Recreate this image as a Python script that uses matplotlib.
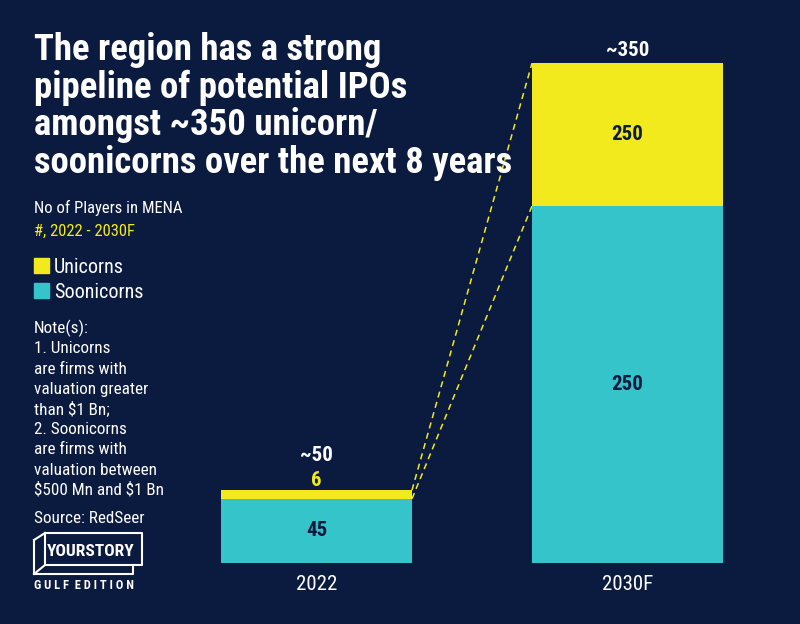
import matplotlib
matplotlib.use("Agg")
import matplotlib.pyplot as plt
from matplotlib.patches import Rectangle

# ---- data ----
years = ["2022", "2030F"]
soonicorns = [45, 250]
unicorns = [6, 100]          # bar heights as drawn in the reference
soonicorn_labels = ["45", "250"]
unicorn_labels = ["6", "250"]
total_labels = ["~50", "~350"]

BG = "#0b1a3f"
YEL = "#f2ea1c"
TEAL = "#35c4c9"
WHITE = "#ffffff"

plt.rcParams["font.family"] = ["Roboto Condensed", "DejaVu Sans"]

W, H = 800, 624
fig = plt.figure(figsize=(W / 100, H / 100), dpi=100, facecolor=BG)

def P(x, y):
    return x / W, 1 - y / H

# axes: pixel x 160..785, y 20..563
ax = fig.add_axes([160 / W, (H - 563) / H, 625 / W, (563 - 20) / H])
ax.patch.set_alpha(0)
px_unit = 311.0
ppu = 1.428
ax.set_xlim((160 - 316.5) / px_unit, (785 - 316.5) / px_unit)
ax.set_ylim(0, (563 - 20) / ppu)
ax.axis("off")

x = list(range(len(years)))
w = 191 / px_unit
ax.bar(x, soonicorns, width=w, color=TEAL, zorder=2)
ax.bar(x, unicorns, width=w, bottom=soonicorns, color=YEL, zorder=2)

# connectors
x0 = x[0] + w / 2
x1 = x[1] - w / 2
ax.plot([x0, x1], [soonicorns[0] + unicorns[0], soonicorns[1] + unicorns[1]],
        ls=(0, (4, 3)), color=YEL, lw=1.1, zorder=1)
ax.plot([x0, x1], [soonicorns[0], soonicorns[1]],
        ls=(0, (4, 3)), color=YEL, lw=1.1, zorder=1)

# labels
for i in x:
    ax.text(i, soonicorns[i] / 2, soonicorn_labels[i], ha="center", va="center",
            color=BG, fontsize=15, fontweight="bold")
    ax.text(i, -12 / ppu, years[i], ha="center", va="top", color=WHITE, fontsize=15)
    top = soonicorns[i] + unicorns[i]
    if unicorns[i] > 20:
        ax.text(i, soonicorns[i] + unicorns[i] / 2, unicorn_labels[i], ha="center",
                va="center", color=BG, fontsize=15, fontweight="bold")
        ax.text(i, top + 7 / ppu, total_labels[i], ha="center", va="baseline",
                color=WHITE, fontsize=15, fontweight="bold")
    else:
        ax.text(i, top + 4 / ppu, unicorn_labels[i], ha="center", va="baseline",
                color=YEL, fontsize=15, fontweight="bold")
        ax.text(i, top + 29 / ppu, total_labels[i], ha="center", va="baseline",
                color=WHITE, fontsize=15, fontweight="bold")

# title
title = ["The region has a strong", "pipeline of potential IPOs",
         "amongst ~350 unicorn/", "soonicorns over the next 8 years"]
for k, line in enumerate(title):
    fig.text(*P(34, 60 + 37.7 * k), line, color=WHITE, fontsize=26.5,
             fontweight="bold", va="baseline", ha="left")

fig.text(*P(34, 213), "No of Players in MENA", color=WHITE, fontsize=12, va="baseline")
fig.text(*P(34, 236), "#, 2022 - 2030F", color=YEL, fontsize=12, va="baseline")

# legend
for yy, col, lab in [(258, YEL, "Unicorns"), (283, TEAL, "Soonicorns")]:
    fig.patches.append(Rectangle(P(34, yy + 15), 15 / W, 15 / H, transform=fig.transFigure,
                                 color=col))
    fig.text(*P(54, yy + 15), lab, color=WHITE, fontsize=14.5, va="baseline")

notes = ["Note(s):", "1. Unicorns", "are firms with", "valuation greater",
         "than \\$1 Bn;", "2. Soonicorns", "are firms with", "valuation between",
         "\\$500 Mn and \\$1 Bn"]
for k, line in enumerate(notes):
    fig.text(*P(34, 333 + 20.25 * k), line, color=WHITE, fontsize=12.3, va="baseline")
fig.text(*P(34, 523), "Source: RedSeer", color=WHITE, fontsize=12.3, va="baseline")

# logo
lw = 1.5
def seg(xs, ys):
    fig.lines.append(plt.Line2D([v / W for v in xs], [1 - v / H for v in ys],
                                transform=fig.transFigure, color=WHITE, lw=lw,
                                solid_capstyle="projecting"))
seg([45, 142, 142, 45, 45], [533, 533, 565, 565, 533])      # front box
seg([34, 45], [540, 533])                                    # top-left bevel
seg([34, 34, 133, 133], [540, 574, 574, 565])                # side/bottom face
seg([34, 45], [574, 565])
fig.text(*P(91, 551.5), "YOURSTORY", color=WHITE, fontsize=12.5, fontweight="bold",
         ha="center", va="center")
fig.text(*P(34, 589), "G U L F  E D I T I O N", color=WHITE, fontsize=9,
         fontweight="bold", va="baseline")

fig.savefig("out.png", dpi=100, facecolor=BG)
